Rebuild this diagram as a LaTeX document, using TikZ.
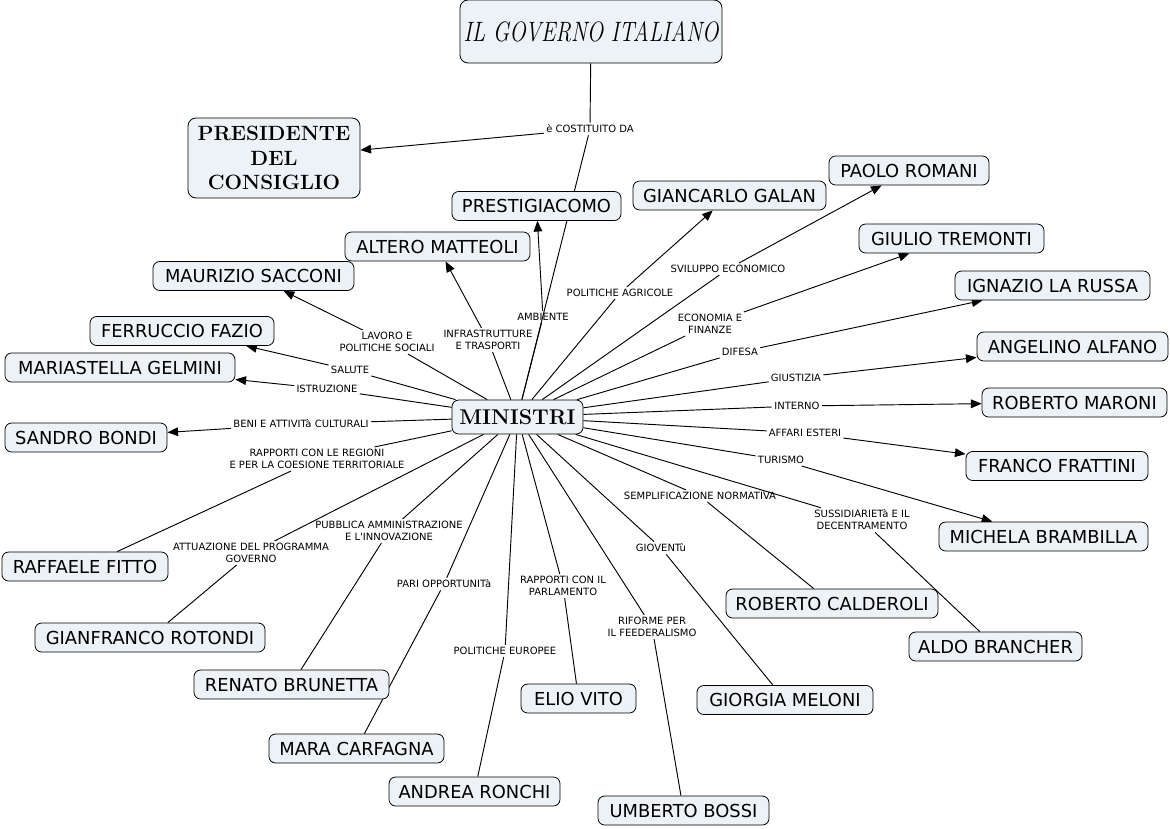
\documentclass[tikz,border=0pt]{standalone}
\usepackage{fontspec}
\usepackage{graphicx}
\newfontfamily\vfont{DejaVu Sans}
\usetikzlibrary{arrows.meta,backgrounds}
\definecolor{boxfill}{RGB}{236,242,245}
\begin{document}
\begin{tikzpicture}[x=0.75pt,y=-0.75pt,
  box/.style={draw, rounded corners=5pt, fill=boxfill, line width=0.6pt,
    minimum width=#1*0.75pt, minimum height=21.75pt, inner sep=1pt,
    font=\vfont\fontsize{13.4}{15}\selectfont},
  bigbox/.style={draw, rounded corners=6pt, fill=boxfill, line width=0.6pt, inner sep=1pt, align=center},
  lab/.style={font=\vfont\fontsize{7.5}{9}\selectfont, align=center, inner sep=1.5pt},
  link/.style={line width=0.7pt},
  arr/.style={link, -{Triangle[length=8pt,width=6.5pt]}}]
\useasboundingbox (0,0) rectangle (1170,828);

% main nodes
\node[bigbox, minimum width=196.5pt, minimum height=47.25pt] (title) at (591,31.5)
  {\fontsize{21}{24}\selectfont\itshape\scalebox{0.78}[1]{IL GOVERNO ITALIANO}};
\node[bigbox, minimum width=129pt, minimum height=60pt,
  font=\fontsize{15.5}{18.5}\selectfont\bfseries] (pres) at (274,158)
  {PRESIDENTE\\DEL\\CONSIGLIO};
\node[bigbox, rounded corners=5pt, minimum width=98.25pt, minimum height=25.5pt,
  font=\fontsize{16}{18}\selectfont\bfseries] (min) at (517.5,417) {MINISTRI};

% ministers
\node[box=169] (prestig) at (536.5,206) {PRESTIGIACOMO};
\node[box=193] (galan) at (729.5,195.5) {GIANCARLO GALAN};
\node[box=160] (romani) at (909,170.5) {PAOLO ROMANI};
\node[box=185] (matteoli) at (437.5,246.5) {ALTERO MATTEOLI};
\node[box=185] (tremonti) at (951.5,238.5) {GIULIO TREMONTI};
\node[box=201] (sacconi) at (253.5,276) {MAURIZIO SACCONI};
\node[box=195] (larussa) at (1052.5,285.5) {IGNAZIO LA RUSSA};
\node[box=184] (fazio) at (182,331) {FERRUCCIO FAZIO};
\node[box=191] (alfano) at (1072.5,346.5) {ANGELINO ALFANO};
\node[box=230] (gelmini) at (120,367.5) {MARIASTELLA GELMINI};
\node[box=185] (maroni) at (1074.5,402.5) {ROBERTO MARONI};
\node[box=162] (bondi) at (86,437.5) {SANDRO BONDI};
\node[box=182] (frattini) at (1057,466) {FRANCO FRATTINI};
\node[box=209] (brambilla) at (1043.5,536.5) {MICHELA BRAMBILLA};
\node[box=166] (fitto) at (85,566.5) {RAFFAELE FITTO};
\node[box=212] (calderoli) at (832,603.5) {ROBERTO CALDEROLI};
\node[box=230] (rotondi) at (150,637.5) {GIANFRANCO ROTONDI};
\node[box=173] (brancher) at (995.5,646.5) {ALDO BRANCHER};
\node[box=195] (brunetta) at (291.5,684.5) {RENATO BRUNETTA};
\node[box=176] (meloni) at (785,700) {GIORGIA MELONI};
\node[box=115] (vito) at (578.5,698.5) {ELIO VITO};
\node[box=175] (carfagna) at (356.5,748.5) {MARA CARFAGNA};
\node[box=171] (ronchi) at (474.5,791.5) {ANDREA RONCHI};
\node[box=171] (bossi) at (683.5,810.5) {UMBERTO BOSSI};

% labels
\node[lab] (costit) at (590,129) {è COSTITUITO DA};
\node[lab] (ambiente) at (543,317) {AMBIENTE};
\node[lab] (infra) at (488,340) {INFRASTRUTTURE\\E TRASPORTI};
\node[lab] (lavoro) at (387,342) {LAVORO E\\POLITICHE SOCIALI};
\node[lab] (salute) at (350,370) {SALUTE};
\node[lab] (istruz) at (327,389) {ISTRUZIONE};
\node[lab] (agric) at (620,293) {POLITICHE AGRICOLE};
\node[lab] (svil) at (728,269) {SVILUPPO ECONOMICO};
\node[lab] (econ) at (710,324) {ECONOMIA E\\FINANZE};
\node[lab] (difesa) at (740,352) {DIFESA};
\node[lab] (giust) at (796,378) {GIUSTIZIA};
\node[lab] (interno) at (797,406) {INTERNO};
\node[lab] (esteri) at (805,433) {AFFARI ESTERI};
\node[lab] (turismo) at (781,460) {TURISMO};
\node[lab] (beni) at (301,424) {BENI E ATTIVITà CULTURALI};
\node[lab] (regioni) at (317,459) {RAPPORTI CON LE REGIONI\\E PER LA COESIONE TERRITORIALE};
\node[lab] (attuaz) at (251,553) {ATTUAZIONE DEL PROGRAMMA\\GOVERNO};
\node[lab] (pubbl) at (389,531) {PUBBLICA AMMINISTRAZIONE\\E L'INNOVAZIONE};
\node[lab] (pari) at (444,584) {PARI OPPORTUNITà};
\node[lab] (parlam) at (563,586) {RAPPORTI CON IL\\PARLAMENTO};
\node[lab] (europee) at (505,651) {POLITICHE EUROPEE};
\node[lab] (riforme) at (652,627) {RIFORME PER\\IL FEEDERALISMO};
\node[lab] (gioventu) at (661,548) {GIOVENTù};
\node[lab] (sempl) at (700,496) {SEMPLIFICAZIONE NORMATIVA};
\node[lab] (sussid) at (862,520) {SUSSIDIARIETà E IL\\DECENTRAMENTO};

\begin{pgfonlayer}{background}
\draw[link] (title) -- (costit);
\draw[arr] (costit) -- (pres);
\draw[link] (costit) -- (min);
% upward / sideways links with arrows
\foreach \l/\t in {ambiente/prestig, infra/matteoli, lavoro/sacconi, salute/fazio,
  istruz/gelmini, agric/galan, svil/romani, econ/tremonti, difesa/larussa,
  giust/alfano, interno/maroni, esteri/frattini, turismo/brambilla, beni/bondi}
  {\draw[link] (min) -- (\l); \draw[arr] (\l) -- (\t);}
% downward links
\foreach \l/\t in {regioni/fitto, attuaz/rotondi, pubbl/brunetta, pari/carfagna,
  europee/ronchi, parlam/vito, riforme/bossi, gioventu/meloni,
  sempl/calderoli, sussid/brancher}
  {\draw[link] (min) -- (\l); \draw[link] (\l) -- (\t);}
\end{pgfonlayer}
\end{tikzpicture}
\end{document}
